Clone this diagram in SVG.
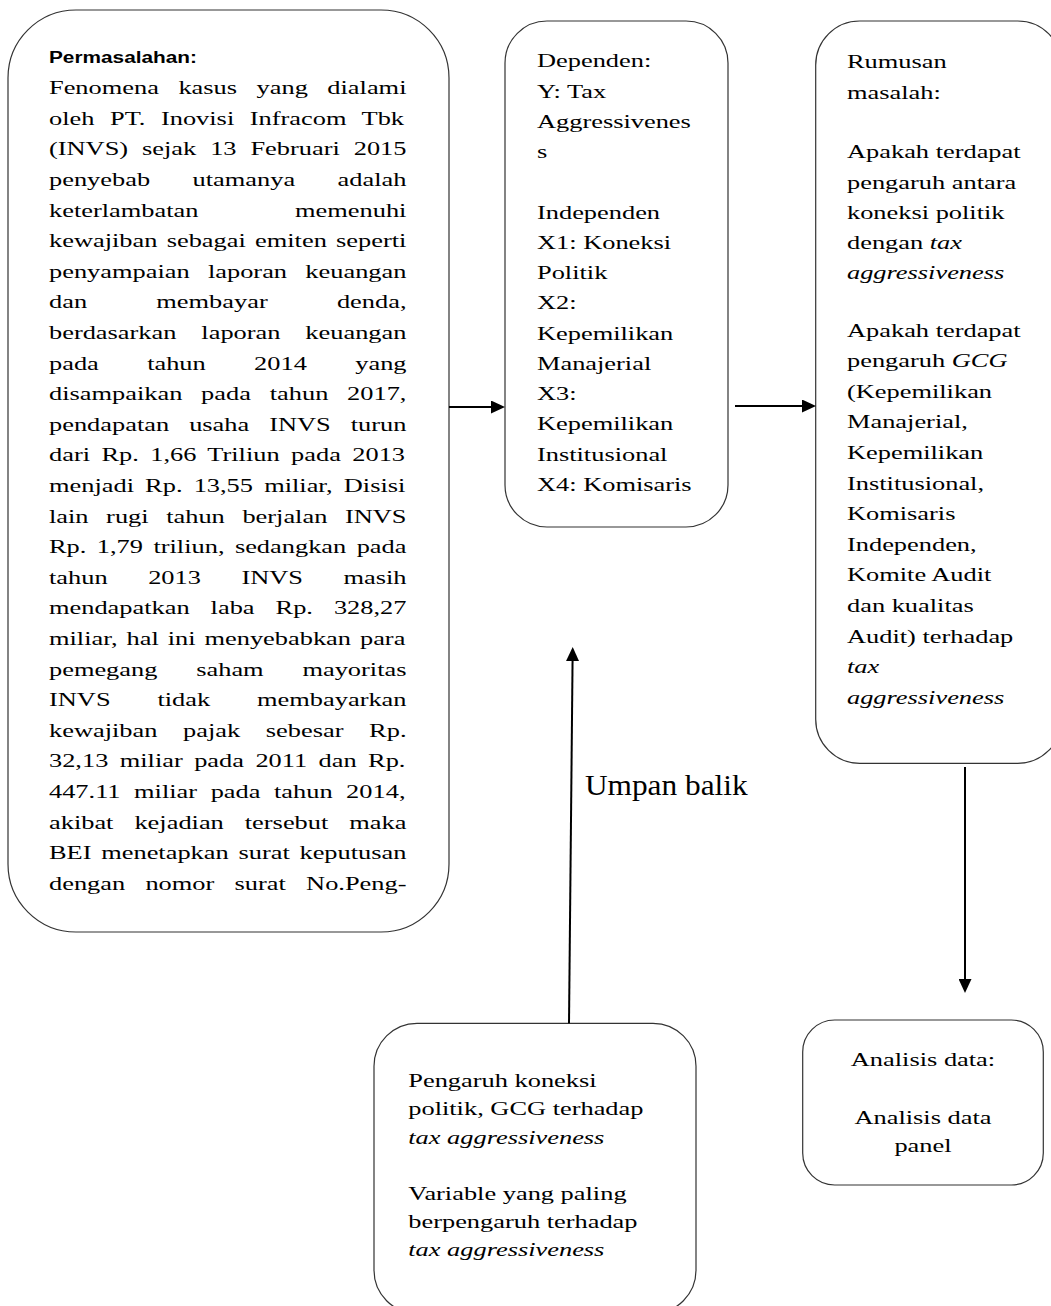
<svg xmlns="http://www.w3.org/2000/svg" width="1051" height="1306" viewBox="0 0 1051 1306">
<style>
.box{fill:#fff;stroke:#333;stroke-width:1.2}
.t{font-family:"Liberation Serif","Times New Roman",serif;font-size:18.5px;fill:#000}
.i{font-style:italic}
.h{font-family:"Liberation Sans",Arial,sans-serif;font-weight:bold;font-size:17px;fill:#000}
.conn{stroke:#000;stroke-width:2;fill:none}
.lbl{font-family:"Liberation Serif","Times New Roman",serif;font-size:29px;fill:#000}
</style>
<defs>
<marker id="ah" markerUnits="userSpaceOnUse" markerWidth="14" markerHeight="13" refX="4" refY="6.5" orient="auto">
<path d="M0,0 L14,6.5 L0,13 z" fill="#000"/>
</marker>
</defs>
<rect width="1051" height="1306" fill="#fff"/>

<g id="node-permasalahan">
<rect class="box" x="8" y="10" width="441" height="922" rx="68" ry="68"/>
<g transform="scale(1.427,1)">
<text class="h" x="34.34" y="62.7" textLength="103.7" lengthAdjust="spacingAndGlyphs">Permasalahan:</text>
<g class="t">
<text x="34.34" y="94.3" style="word-spacing:9.05px">Fenomena kasus yang dialami</text>
<text x="34.34" y="124.9" style="word-spacing:6.27px">oleh PT. Inovisi Infracom Tbk</text>
<text x="34.34" y="155.5" style="word-spacing:5.12px">(INVS) sejak 13 Februari 2015</text>
<text x="34.34" y="186.1" style="word-spacing:25.15px">penyebab utamanya adalah</text>
<text x="34.34" y="216.7" style="word-spacing:63.12px">keterlambatan memenuhi</text>
<text x="34.34" y="247.3" style="word-spacing:1.86px">kewajiban sebagai emiten seperti</text>
<text x="34.34" y="277.9" style="word-spacing:8.2px">penyampaian laporan keuangan</text>
<text x="34.34" y="308.5" style="word-spacing:43.9px">dan membayar denda,</text>
<text x="34.34" y="339.1" style="word-spacing:12.83px">berdasarkan laporan keuangan</text>
<text x="34.34" y="369.7" style="word-spacing:29.26px">pada tahun 2014 yang</text>
<text x="34.34" y="400.3" style="word-spacing:8.54px">disampaikan pada tahun 2017,</text>
<text x="34.34" y="430.9" style="word-spacing:9.4px">pendapatan usaha INVS turun</text>
<text x="34.34" y="461.5" style="word-spacing:3.37px">dari Rp. 1,66 Triliun pada 2013</text>
<text x="34.34" y="492.1" style="word-spacing:3.18px">menjadi Rp. 13,55 miliar, Disisi</text>
<text x="34.34" y="522.7" style="word-spacing:7.69px">lain rugi tahun berjalan INVS</text>
<text x="34.34" y="553.3" style="word-spacing:2.68px">Rp. 1,79 triliun, sedangkan pada</text>
<text x="34.34" y="583.9" style="word-spacing:23.78px">tahun 2013 INVS masih</text>
<text x="34.34" y="614.5" style="word-spacing:10.08px">mendapatkan laba Rp. 328,27</text>
<text x="34.34" y="645.1" style="word-spacing:1.65px">miliar, hal ini menyebabkan para</text>
<text x="34.34" y="675.7" style="word-spacing:22.57px">pemegang saham mayoritas</text>
<text x="34.34" y="706.3" style="word-spacing:28.23px">INVS tidak membayarkan</text>
<text x="34.34" y="736.9" style="word-spacing:13.34px">kewajiban pajak sebesar Rp.</text>
<text x="34.34" y="767.5" style="word-spacing:3.37px">32,13 miliar pada 2011 dan Rp.</text>
<text x="34.34" y="798.1" style="word-spacing:4.86px">447.11 miliar pada tahun 2014,</text>
<text x="34.34" y="828.7" style="word-spacing:10.08px">akibat kejadian tersebut maka</text>
<text x="34.34" y="859.3" style="word-spacing:2.2px">BEI menetapkan surat keputusan</text>
<text x="34.34" y="889.9" style="word-spacing:9.57px">dengan nomor surat No.Peng-</text>
</g>
</g>
</g>

<g id="node-variabel">
<rect class="box" x="505" y="21" width="223" height="506" rx="42" ry="42"/>
<g transform="scale(1.427,1)" class="t">
<text x="376.3" y="67.5">Dependen:</text>
<text x="376.3" y="97.75">Y: Tax</text>
<text x="376.3" y="128">Aggressivenes</text>
<text x="376.3" y="158.25">s</text>
<text x="376.3" y="218.75">Independen</text>
<text x="376.3" y="249">X1: Koneksi</text>
<text x="376.3" y="279.25">Politik</text>
<text x="376.3" y="309.5">X2:</text>
<text x="376.3" y="339.75">Kepemilikan</text>
<text x="376.3" y="370">Manajerial</text>
<text x="376.3" y="400.25">X3:</text>
<text x="376.3" y="430.5">Kepemilikan</text>
<text x="376.3" y="460.75">Institusional</text>
<text x="376.3" y="491">X4: Komisaris</text>
</g>
</g>

<g id="node-rumusan">
<rect class="box" x="815.7" y="21" width="246" height="742.3" rx="44" ry="44"/>
<g transform="scale(1.427,1)" class="t">
<text x="593.55" y="68.3">Rumusan</text>
<text x="593.55" y="99">masalah:</text>
<text x="593.55" y="158.3">Apakah terdapat</text>
<text x="593.55" y="188.6">pengaruh antara</text>
<text x="593.55" y="218.9">koneksi politik</text>
<text x="593.55" y="249.2">dengan <tspan class="i">tax</tspan></text>
<text x="593.55" y="279.5" class="i">aggressiveness</text>
<text x="593.55" y="336.7">Apakah terdapat</text>
<text x="593.55" y="367.3">pengaruh <tspan class="i">GCG</tspan></text>
<text x="593.55" y="397.9">(Kepemilikan</text>
<text x="593.55" y="428.5">Manajerial,</text>
<text x="593.55" y="459.1">Kepemilikan</text>
<text x="593.55" y="489.7">Institusional,</text>
<text x="593.55" y="520.3">Komisaris</text>
<text x="593.55" y="550.9">Independen,</text>
<text x="593.55" y="581.5">Komite Audit</text>
<text x="593.55" y="612.1">dan kualitas</text>
<text x="593.55" y="642.7">Audit) terhadap</text>
<text x="593.55" y="673.3" class="i">tax</text>
<text x="593.55" y="703.9" class="i">aggressiveness</text>
</g>
</g>

<g id="node-hasil">
<rect class="box" x="374" y="1023.3" width="322" height="290" rx="43" ry="43"/>
<g transform="scale(1.427,1)" class="t">
<text x="286.1" y="1087.3">Pengaruh koneksi</text>
<text x="286.1" y="1115.5">politik, GCG terhadap</text>
<text x="286.1" y="1143.7" class="i">tax aggressiveness</text>
<text x="286.1" y="1200.1">Variable yang paling</text>
<text x="286.1" y="1228.3">berpengaruh terhadap</text>
<text x="286.1" y="1256.5" class="i">tax aggressiveness</text>
</g>
</g>

<g id="node-analisis">
<rect class="box" x="802.7" y="1020" width="240.6" height="165" rx="32" ry="32"/>
<g transform="scale(1.427,1)" class="t" text-anchor="middle">
<text x="646.8" y="1066">Analisis data:</text>
<text x="646.8" y="1124">Analisis data</text>
<text x="646.8" y="1152.5">panel</text>
</g>
</g>

<g id="connectors">
<line class="conn" x1="449" y1="407" x2="495" y2="407" marker-end="url(#ah)"/>
<line class="conn" x1="735" y1="406" x2="806" y2="406" marker-end="url(#ah)"/>
<line class="conn" x1="965" y1="767" x2="965" y2="983" marker-end="url(#ah)"/>
<line class="conn" x1="569" y1="1023.3" x2="572.6" y2="657" marker-end="url(#ah)"/>
<text class="lbl" transform="translate(585,795) scale(1.08,1)">Umpan balik</text>
</g>
</svg>
